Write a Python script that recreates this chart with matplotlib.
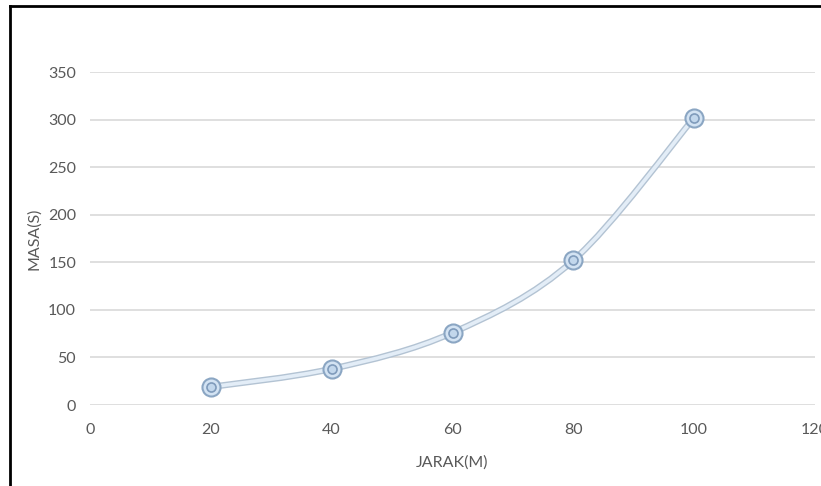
import matplotlib
matplotlib.use("Agg")
import matplotlib.pyplot as plt
from matplotlib.path import Path
from matplotlib.patches import PathPatch
from matplotlib.lines import Line2D
import matplotlib.patheffects as pe
import numpy as np

jarak = [20, 40, 60, 80, 100]
masa = [19, 38, 76, 152, 302]
x_ticks = [0, 20, 40, 60, 80, 100, 120]
y_ticks = [0, 50, 100, 150, 200, 250, 300, 350]

plt.rcParams['font.family'] = ['Lato', 'DejaVu Sans']
TEXT = '#595959'
GRID = '#d9d9d9'

W, H = 821, 486
fig = plt.figure(figsize=(W / 100, H / 100), dpi=100)
ax = fig.add_axes([90 / W, 1 - 405 / H, (815 - 90) / W, (405 - 72) / H])

ax.set_xlim(0, 120)
ax.set_ylim(0, 350)
ax.set_xticks(x_ticks)
ax.set_yticks(y_ticks)
ax.tick_params(length=0, labelsize=11.5, colors=TEXT)
ax.tick_params(axis='x', pad=13)
ax.tick_params(axis='y', pad=10)
for s in ax.spines.values():
    s.set_visible(False)
ax.grid(axis='y', color=GRID, lw=1.2)
ax.set_axisbelow(True)
ax.set_xlabel('JARAK(M)', fontsize=11.5, color=TEXT, labelpad=13)
ax.set_ylabel('MASA(S)', fontsize=11.5, color=TEXT, labelpad=5)

# smoothed line through the points (cubic Bezier, Catmull-Rom style)
pts = np.column_stack([jarak, masa]).astype(float)
n = len(pts)
verts = [pts[0]]
codes = [Path.MOVETO]
for i in range(n - 1):
    p0 = pts[max(i - 1, 0)]
    p1 = pts[i]
    p2 = pts[i + 1]
    p3 = pts[min(i + 2, n - 1)]
    c1 = p1 + (p2 - p0) / 6.0
    c2 = p2 - (p3 - p1) / 6.0
    verts += [c1, c2, p2]
    codes += [Path.CURVE4] * 3
path = Path(verts, codes)
curve = PathPatch(path, facecolor='none', edgecolor='#e3edf7', lw=2.6, zorder=3,
                  clip_on=False,
                  path_effects=[pe.Stroke(linewidth=4.6, foreground='#b3c3d3'),
                                pe.Normal()])
ax.add_patch(curve)

# markers: outer ring with inner ring
ax.plot(jarak, masa, ls='none', marker='o', ms=13, mfc='#d3e3f3',
        mec='#8ba6c3', mew=1.5, zorder=4)
ax.plot(jarak, masa, ls='none', marker='o', ms=6.5, mfc='#c2d7ec',
        mec='#7f9bbb', mew=1.2, zorder=5)

# outer frame
fig.add_artist(Line2D([9.5 / W, 9.5 / W], [0, 1 - 6.5 / H], color='black', lw=2))
fig.add_artist(Line2D([9.5 / W, 1], [1 - 6.5 / H, 1 - 6.5 / H], color='black', lw=2))

fig.savefig('out.png', dpi=100)
